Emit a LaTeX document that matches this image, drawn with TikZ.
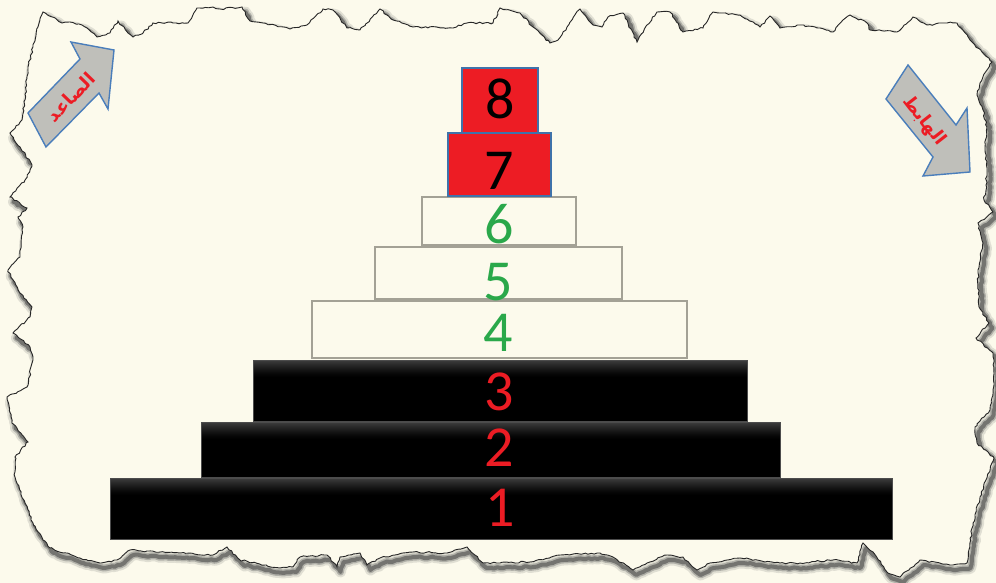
\documentclass[tikz,border=0pt]{standalone}
\usepackage{fontspec}
\setmainfont{Carlito}
\newfontfamily\arabicfont[Script=Arabic]{DejaVu Sans}
\TeXXeTstate=1
\usetikzlibrary{decorations.pathmorphing}
\definecolor{paper}{HTML}{FCFAEC}
\definecolor{boxred}{HTML}{ED1C24}
\definecolor{boxblue}{HTML}{3F72AA}
\definecolor{numgreen}{HTML}{2AA84A}
\definecolor{numred}{HTML}{EC1C24}
\definecolor{arrowgray}{HTML}{BFBFBA}
\definecolor{arrowblue}{HTML}{4A7EBB}
\definecolor{lightline}{HTML}{A3A195}
\def\paperpath{(43,12) -- (62,23) -- (70,22) -- (82,25) -- (97,37) -- (110,33) -- (118,21) -- (128,33) -- (133,37) -- (143,33) -- (153,23) -- (173,23) -- (188,23) -- (197,8) -- (213,7) -- (220,9) -- (242,7) -- (250,21) -- (263,23) -- (290,29) -- (307,25) -- (323,9) -- (333,10) -- (347,28) -- (360,30) -- (380,9) -- (393,20) -- (413,27) -- (453,28) -- (467,23) -- (493,23) -- (500,8) -- (520,13) -- (533,27) -- (550,43) -- (558,40) -- (567,27) -- (580,9) -- (593,25) -- (602,27) -- (608,17) -- (623,13) -- (637,42) -- (647,25) -- (657,12) -- (670,12) -- (683,32) -- (703,28) -- (713,12) -- (723,13) -- (740,15) -- (760,27) -- (770,16) -- (780,28) -- (800,25) -- (820,28) -- (833,32) -- (843,20) -- (850,15) -- (867,23) -- (870,30) -- (897,32) -- (913,17) -- (927,25) -- (947,23) -- (957,23) -- (970,40) -- (982,52) -- (992,62) -- (987,70) -- (980,83) -- (977,95) -- (983,110) -- (987,127) -- (985,147) -- (987,173) -- (986,185) -- (984,200) -- (993,212) -- (978,223) -- (983,243) -- (978,270) -- (979,307) -- (989,323) -- (976,338) -- (993,353) -- (994,383) -- (990,410) -- (975,427) -- (977,443) -- (994,458) -- (980,497) -- (973,523) -- (967,563) -- (950,565) -- (920,560) -- (900,577) -- (887,572) -- (873,552) -- (863,543) -- (857,563) -- (833,560) -- (800,563) -- (780,563) -- (740,558) -- (710,563) -- (697,570) -- (683,557) -- (667,555) -- (647,563) -- (633,570) -- (613,557) -- (600,553) -- (560,555) -- (530,562) -- (500,563) -- (483,563) -- (467,547) -- (447,553) -- (413,552) -- (380,558) -- (367,565) -- (360,553) -- (340,557) -- (337,567) -- (327,555) -- (300,557) -- (293,567) -- (280,568) -- (240,560) -- (227,547) -- (213,555) -- (180,553) -- (130,550) -- (117,560) -- (100,563) -- (80,558) -- (50,548) -- (43,540) -- (33,523) -- (25,503) -- (15,477) -- (15,457) -- (28,442) -- (12,423) -- (7,397) -- (27,387) -- (33,360) -- (30,347) -- (13,333) -- (30,317) -- (32,307) -- (20,293) -- (8,270) -- (20,257) -- (23,227) -- (18,217) -- (27,208) -- (10,197) -- (25,180) -- (32,165) -- (20,147) -- (10,133) -- (22,120) -- (25,100) -- (28,67) -- (33,47) -- (38,27) -- cycle}
\begin{document}
\begin{tikzpicture}[x=1pt,y=-1pt,
  torn/.style={decorate,decoration={random steps,segment length=3pt,amplitude=0.9pt}},
  redbox/.style={draw=boxblue,line width=1.4pt,fill=boxred,inner sep=0pt},
  whitebox/.style={draw=lightline,line width=1.4pt,fill=paper,inner sep=0pt},
  blackbox/.style={draw=black!70,line width=0.8pt,fill=black,inner sep=0pt,
    path picture={\foreach \i in {0,...,17}{
        \pgfmathsetmacro{\lev}{100-24*(1-\i/17)^1.3}
        \fill[black!\lev] ([yshift=-\i pt]path picture bounding box.north west)
          rectangle ([yshift=-\i pt-1.05pt]path picture bounding box.north east);}}},
  num/.style={inner sep=0pt,font=\fontsize{58}{60}\selectfont},
  arrowshape/.style={draw=arrowblue,line width=1.4pt,fill=arrowgray,line join=miter},
  arlabel/.style={inner sep=0pt,text=numred,font=\arabicfont\bfseries\fontsize{18}{20}\selectfont}]
\useasboundingbox (0,0) rectangle (996,583);
\fill[paper] (0,0) rectangle (996,583);
% shadow of the torn paper
\begin{scope}[xshift=3.5pt,yshift=-5pt]
  \pgfmathsetseed{7}
  \draw[torn,black!60,line width=11pt,opacity=0.18,line join=round] \paperpath;
  \pgfmathsetseed{7}
  \draw[torn,black!65,line width=7pt,opacity=0.35,line join=round] \paperpath;
  \pgfmathsetseed{7}
  \draw[torn,black!70,line width=4pt,opacity=0.6,line join=round] \paperpath;
\end{scope}
\pgfmathsetseed{7}
\fill[torn,paper] \paperpath;
\pgfmathsetseed{7}
\draw[torn,black!85,line width=0.9pt] \paperpath;
% arrows
\draw[arrowshape] (28,113) -- (80,59) -- (71,42) -- (114,50) -- (108,109) -- (99,93) -- (46,147) -- cycle;
\draw[arrowshape] (908,65) -- (956,125) -- (967,108) -- (970,172) -- (923,176) -- (933,157) -- (886,99) -- cycle;
\node[arlabel,rotate=46] (up) at (71,97) {\beginR الصاعد\endR};
\node[arlabel,rotate=-52] (down) at (924,121) {\beginR الهابط\endR};
% pyramid
\node[blackbox,minimum width=782pt,minimum height=61pt] (b1) at (501,508.5) {};
\node[blackbox,minimum width=579pt,minimum height=55pt] (b2) at (490.5,449.5) {};
\node[blackbox,minimum width=494pt,minimum height=61pt] (b3) at (500,390.5) {};
\node[whitebox,minimum width=375pt,minimum height=57pt] (b4) at (499.5,329.5) {};
\node[whitebox,minimum width=247pt,minimum height=52pt] (b5) at (498.5,273) {};
\node[whitebox,minimum width=154pt,minimum height=48pt] (b6) at (499,221) {};
\node[redbox,minimum width=103pt,minimum height=63pt] (b7) at (499.5,164.5) {};
\node[redbox,minimum width=76pt,minimum height=65pt] (b8) at (500,100.5) {};
% numbers
\node[num,text=numred] (n1) at (500,508) {1};
\node[num,text=numred] (n2) at (499,448) {2};
\node[num,text=numred] (n3) at (499,392) {3};
\node[num,text=numgreen] (n4) at (498,333) {4};
\node[num,text=numgreen] (n5) at (498,282) {5};
\node[num,text=numgreen] (n6) at (499,224) {6};
\node[num,text=black] (n7) at (499,171) {7};
\node[num,text=black] (n8) at (500,99) {8};
\end{tikzpicture}
\end{document}
